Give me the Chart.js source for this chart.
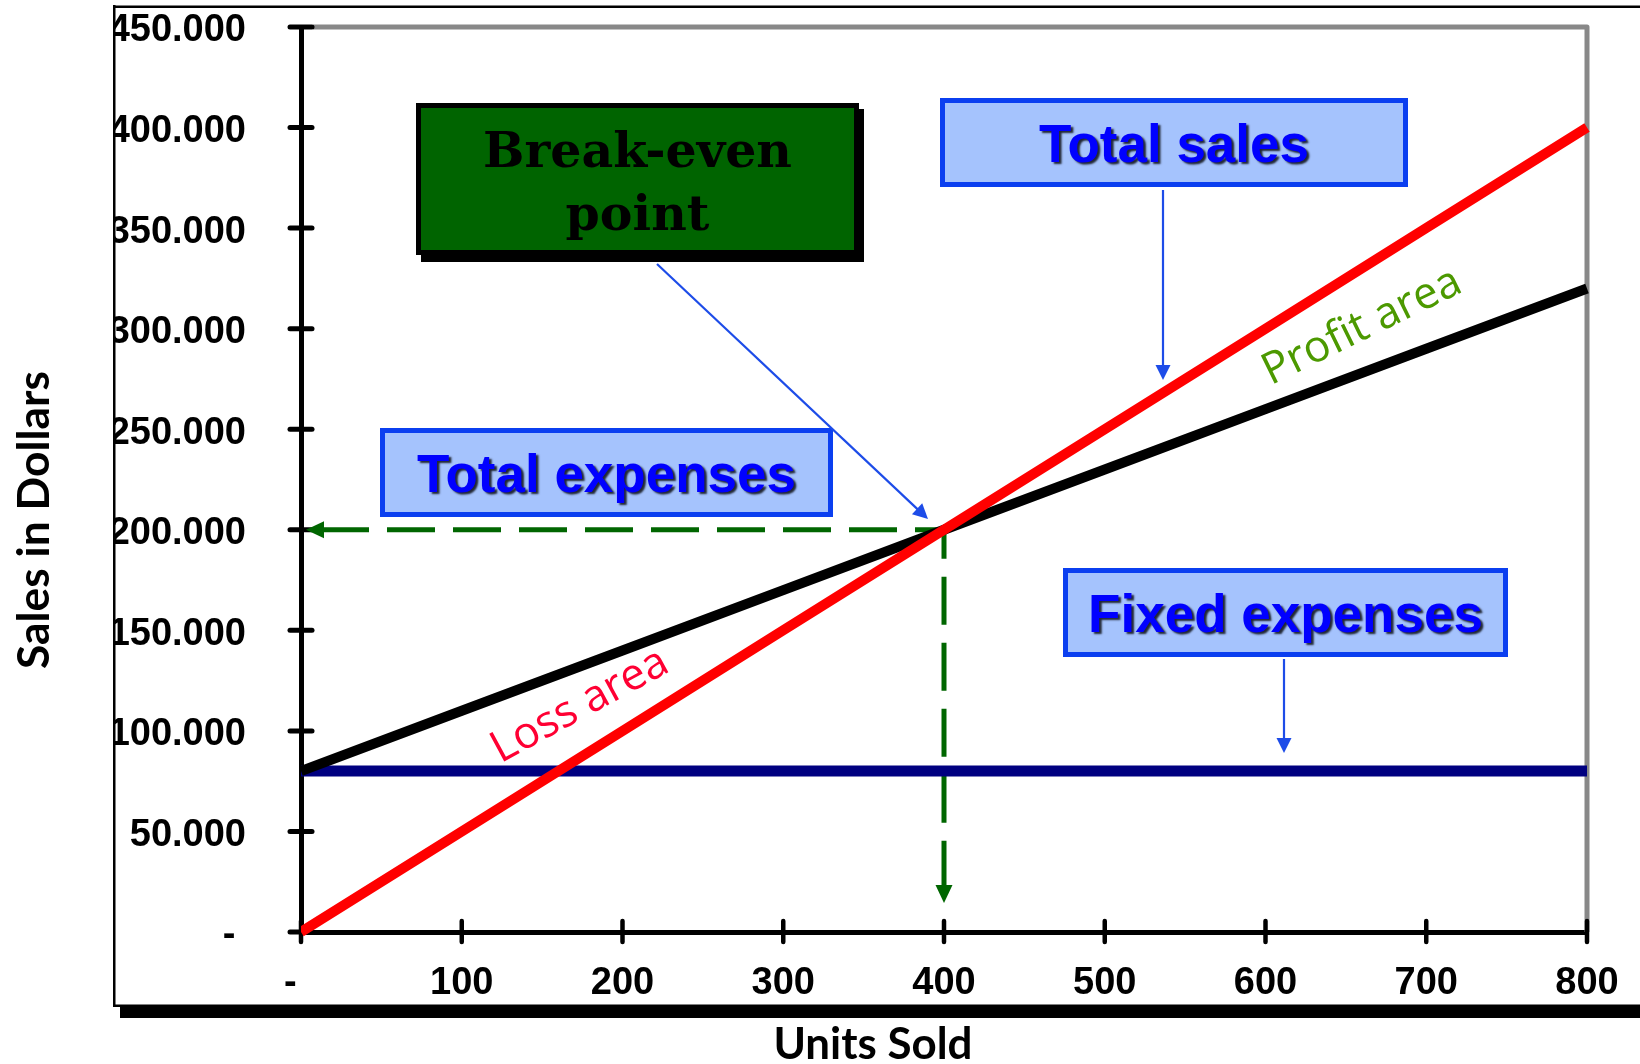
<!DOCTYPE html>
<html><head><meta charset="utf-8">
<script src="https://cdn.jsdelivr.net/npm/chart.js@4/dist/chart.umd.min.js"></script>
<style>html,body{margin:0;padding:0;background:#fff;}#wrap{width:1640px;height:1064px;}</style>
</head><body>
<div id="wrap"><canvas id="c" width="1640" height="1064"></canvas></div>
<script>
// ---- data ----
const units = [0, 100, 200, 300, 400, 500, 600, 700, 800];
const totalSales = [0, 50000, 100000, 150000, 200000, 250000, 300000, 350000, 400000];
const totalExpenses = [80000, 110000, 140000, 170000, 200000, 230000, 260000, 290000, 320000];
const fixedExpenses = [80000, 80000, 80000, 80000, 80000, 80000, 80000, 80000, 80000];
const breakEvenUnits = [400];
const breakEvenSales = [200000];
const xTickValues = [0, 100, 200, 300, 400, 500, 600, 700, 800];
const xTickLabels = ['-  ', '100', '200', '300', '400', '500', '600', '700', '800'];
const yTickValues = [0, 50000, 100000, 150000, 200000, 250000, 300000, 350000, 400000, 450000];
const yTickLabels = ['- ', '50.000', '100.000', '150.000', '200.000', '250.000', '300.000', '350.000', '400.000', '450.000'];
const seriesNames = ['Total sales', 'Total expenses', 'Fixed expenses'];
const xTitle = 'Units Sold';
const yTitle = 'Sales in Dollars';
const breakEvenLabel = ['Break-even', 'point'];
const lossLabel = 'Loss area';
const profitLabel = 'Profit area';

const pts = (xs, ys) => xs.map((x, i) => ({x: x, y: ys[i]}));
const SANS = '"Liberation Sans", Arial, sans-serif';

function fitSize(ctx, text, weight, family, target) {
  ctx.font = weight + ' 100px ' + family;
  return 100 * target / ctx.measureText(text).width;
}
function arrowHead(ctx, tx, ty, ang, len, half) {
  ctx.beginPath();
  ctx.moveTo(tx, ty);
  ctx.lineTo(tx - len * Math.cos(ang) + half * Math.sin(ang), ty - len * Math.sin(ang) - half * Math.cos(ang));
  ctx.lineTo(tx - len * Math.cos(ang) - half * Math.sin(ang), ty - len * Math.sin(ang) + half * Math.cos(ang));
  ctx.closePath();
  ctx.fill();
}
function arrow(ctx, x1, y1, x2, y2, color) {
  const ang = Math.atan2(y2 - y1, x2 - x1);
  const len = 15, half = 7.5;
  ctx.save();
  ctx.strokeStyle = color; ctx.fillStyle = color; ctx.lineWidth = 2.2;
  ctx.beginPath(); ctx.moveTo(x1, y1);
  ctx.lineTo(x2 - (len - 2) * Math.cos(ang), y2 - (len - 2) * Math.sin(ang)); ctx.stroke();
  arrowHead(ctx, x2, y2, ang, len, half);
  ctx.restore();
}
function blueBox(ctx, x1, y1, x2, y2, text, baseline) {
  ctx.save();
  ctx.fillStyle = '#a5c3fd';
  ctx.fillRect(x1, y1, x2 - x1, y2 - y1);
  ctx.strokeStyle = '#0b3ff0'; ctx.lineWidth = 5;
  ctx.strokeRect(x1 + 2.5, y1 + 2.5, x2 - x1 - 5, y2 - y1 - 5);
  ctx.font = 'bold 53px ' + SANS;
  ctx.textAlign = 'center'; ctx.textBaseline = 'alphabetic';
  ctx.shadowColor = 'rgba(0,0,0,0.8)'; ctx.shadowOffsetX = 2.5; ctx.shadowOffsetY = 2.5; ctx.shadowBlur = 2;
  ctx.fillStyle = '#0000ff';
  ctx.fillText(text, (x1 + x2) / 2, baseline);
  ctx.restore();
}

const decor = {
  id: 'decor',
  beforeDatasetsDraw(chart) {
    const ctx = chart.ctx, a = chart.chartArea, xs = chart.scales.x, ys = chart.scales.y;
    ctx.save();
    // grey plot frame (top + right)
    ctx.strokeStyle = '#888888'; ctx.lineWidth = 5; ctx.lineJoin = 'round';
    ctx.beginPath(); ctx.moveTo(a.left + 12, a.top); ctx.lineTo(a.right, a.top); ctx.lineTo(a.right, a.bottom); ctx.stroke();
    // crossing tick marks
    ctx.strokeStyle = '#000'; ctx.lineCap = 'round'; ctx.lineWidth = 5;
    yTickValues.forEach(v => {
      const y = ys.getPixelForValue(v);
      ctx.beginPath(); ctx.moveTo(a.left - 11, y); ctx.lineTo(a.left + 11, y); ctx.stroke();
    });
    ctx.lineWidth = 4.5;
    xTickValues.forEach(v => {
      const x = xs.getPixelForValue(v);
      ctx.beginPath(); ctx.moveTo(x, a.bottom - 11); ctx.lineTo(x, a.bottom + 10); ctx.stroke();
    });
    // break-even guides
    const bx = xs.getPixelForValue(breakEvenUnits[0]), by = ys.getPixelForValue(breakEvenSales[0]);
    const x0 = xs.getPixelForValue(0), y0 = ys.getPixelForValue(0);
    ctx.strokeStyle = '#006600'; ctx.fillStyle = '#006600'; ctx.lineWidth = 5; ctx.lineCap = 'butt';
    ctx.setLineDash([48, 18]); ctx.lineDashOffset = 19;
    const htip = x0 + 5, vtip = y0 - 29;
    ctx.beginPath(); ctx.moveTo(bx, by); ctx.lineTo(htip + 15, by); ctx.stroke();
    ctx.beginPath(); ctx.moveTo(bx, by); ctx.lineTo(bx, vtip - 15); ctx.stroke();
    ctx.setLineDash([]);
    arrowHead(ctx, htip, by, Math.PI, 18, 8.5);
    arrowHead(ctx, bx, vtip, Math.PI / 2, 18, 8.5);
    ctx.restore();
  },
  afterDraw(chart) {
    const ctx = chart.ctx;
    ctx.save();
    // clip tick labels at the outer frame
    ctx.fillStyle = '#fff'; ctx.fillRect(58, 0, 55, 1004);
    // outer frame
    ctx.fillStyle = '#000';
    ctx.fillRect(113, 5, 2.5, 1002);
    ctx.fillRect(113, 5.5, 1527, 2.5);
    ctx.fillRect(113, 1004.5, 1527, 2.5);
    ctx.fillRect(120, 1006, 1520, 12);
    // axis titles
    ctx.fillStyle = '#000'; ctx.textAlign = 'center'; ctx.textBaseline = 'middle';
    const ts = fitSize(ctx, yTitle, 'bold', 'Lato', 298);
    ctx.font = 'bold ' + ts + 'px Lato';
    ctx.save(); ctx.translate(35, 520); ctx.rotate(-Math.PI / 2); ctx.fillText(yTitle, 0, 0); ctx.restore();
    const xsz = fitSize(ctx, xTitle, 'bold', 'Lato', 199);
    ctx.font = 'bold ' + xsz + 'px Lato';
    ctx.fillText(xTitle, 873, 1045);
    // area labels
    ctx.font = '44px "Open Sans"';
    ctx.fillStyle = '#ff0033';
    ctx.save(); ctx.translate(580, 706); ctx.rotate(-28.5 * Math.PI / 180); ctx.fillText(lossLabel, 0, 0); ctx.restore();
    ctx.fillStyle = '#4c9900';
    ctx.save(); ctx.translate(1362, 327); ctx.rotate(-26 * Math.PI / 180); ctx.fillText(profitLabel, 0, 0); ctx.restore();
    // break-even box
    ctx.fillStyle = '#000'; ctx.fillRect(421, 109, 443, 153);
    ctx.fillStyle = '#006400'; ctx.fillRect(416, 103, 443, 152);
    ctx.strokeStyle = '#000'; ctx.lineWidth = 5; ctx.strokeRect(418.5, 105.5, 438, 147);
    ctx.fillStyle = '#000'; ctx.font = 'bold 49px "DejaVu Serif"'; ctx.textBaseline = 'alphabetic';
    ctx.fillText(breakEvenLabel[0], 637.5, 167);
    ctx.fillText(breakEvenLabel[1], 637.5, 230);
    // callouts
    blueBox(ctx, 940, 98, 1408, 187, seriesNames[0], 161.5);
    blueBox(ctx, 380, 428, 833, 517, seriesNames[1], 491.5);
    blueBox(ctx, 1063, 568, 1508, 657, seriesNames[2], 631.5);
    const blue = '#1d4ce8';
    arrow(ctx, 657, 264, 928, 519, blue);
    arrow(ctx, 1163, 190, 1163, 380, blue);
    arrow(ctx, 1284, 659, 1284, 753, blue);
    ctx.restore();
  }
};

const tickFont = {family: SANS, size: 38, weight: 'bold'};
new Chart(document.getElementById('c'), {
  type: 'line',
  data: {
    datasets: [
      {label: seriesNames[0], data: pts(units, totalSales), borderColor: '#ff0000', borderWidth: 10, clip: {left: 0, top: 5, right: 3, bottom: 5}},
      {label: seriesNames[1], data: pts(units, totalExpenses), borderColor: '#000000', borderWidth: 10, clip: {left: 0, top: 5, right: 3, bottom: 5}},
      {label: seriesNames[2], data: pts(units, fixedExpenses), borderColor: '#000080', borderWidth: 11, clip: {left: 0, top: 5, right: 3, bottom: 5}}
    ]
  },
  options: {
    responsive: false, animation: false, devicePixelRatio: 1,
    layout: {padding: {left: 0, right: 53, top: 27, bottom: 0}},
    plugins: {legend: {display: false}, tooltip: {enabled: false}},
    elements: {point: {radius: 0}, line: {tension: 0, fill: false}},
    scales: {
      x: {
        type: 'linear', min: 0, max: 800,
        afterBuildTicks: s => { s.ticks = xTickValues.map(v => ({value: v})); },
        grid: {display: false, drawTicks: false},
        border: {display: true, color: '#000', width: 5},
        ticks: {autoSkip: false, maxRotation: 0, padding: 29, color: '#000', font: tickFont,
          callback: v => xTickLabels[xTickValues.indexOf(v)]},
        afterFit: s => { s.height = 132; s.paddingLeft = 0; s.paddingRight = 0; }
      },
      y: {
        type: 'linear', min: 0, max: 450000,
        afterBuildTicks: s => { s.ticks = yTickValues.map(v => ({value: v})); },
        grid: {display: false, drawTicks: false},
        border: {display: true, color: '#000', width: 5},
        ticks: {autoSkip: false, padding: 55, labelOffset: 4, color: '#000', font: tickFont,
          callback: v => yTickLabels[yTickValues.indexOf(v)]},
        afterFit: s => { s.width = 301; s.paddingTop = 0; s.paddingBottom = 0; }
      }
    }
  },
  plugins: [decor]
});
</script>
</body></html>
